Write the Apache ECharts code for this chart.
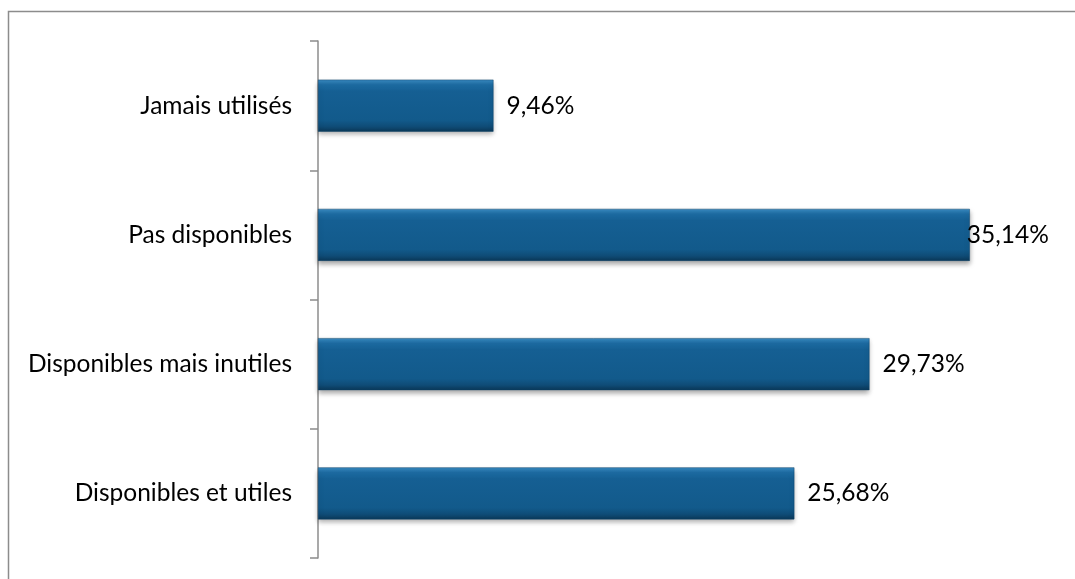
<!DOCTYPE html>
<html><head><meta charset="utf-8">
<script src="https://cdn.jsdelivr.net/npm/echarts@6/dist/echarts.min.js"></script>
<style>html,body{margin:0;padding:0;background:#fff}#c{width:1075px;height:579px}</style>
</head><body><div id="c"></div>
<script>
const categories = ['Disponibles et utiles', 'Disponibles mais inutiles', 'Pas disponibles', 'Jamais utilisés'];
const values = [25.68, 29.73, 35.14, 9.46];
const valueLabels = ['25,68%', '29,73%', '35,14%', '9,46%'];

const FONT = 'Lato';
const chart = echarts.init(document.getElementById('c'));
const barColor = new echarts.graphic.LinearGradient(0, 0, 0, 1, [
  {offset: 0, color: '#3a8cc4'},
  {offset: 0.1, color: '#1d6ca3'},
  {offset: 0.22, color: '#155f93'},
  {offset: 0.78, color: '#125a8b'},
  {offset: 0.9, color: '#0f4c77'},
  {offset: 1, color: '#0b3858'}
]);
const data = values.map((v, i) => ({
  value: v,
  label: {distance: v > 33 ? -3 : 13}
}));
chart.setOption({
  animation: false,
  graphic: [{
    type: 'rect', shape: {x: 8.5, y: 11.5, width: 1200, height: 700},
    style: {fill: 'none', stroke: '#8c8c8c', lineWidth: 1.5}, silent: true
  }],
  grid: {left: 318, right: 15, top: 41, bottom: 21},
  xAxis: {type: 'value', min: 0, max: 40, show: false, splitLine: {show: false}},
  yAxis: {
    type: 'category', data: categories,
    axisLine: {show: true, lineStyle: {color: '#8c8c8c', width: 1.5}},
    axisTick: {show: true, length: 8, lineStyle: {color: '#8c8c8c', width: 1.5}},
    axisLabel: {color: '#000', fontFamily: FONT, fontSize: 24.5, margin: 26}
  },
  series: [{
    type: 'bar', data: data, barWidth: 52,
    itemStyle: {color: barColor, borderColor: '#0d4368', borderWidth: 0.5,
      shadowColor: 'rgba(0,0,0,0.35)', shadowBlur: 5, shadowOffsetY: 3},
    label: {show: true, position: 'right', color: '#000', fontFamily: FONT, fontSize: 24.5,
      formatter: p => valueLabels[p.dataIndex]}
  }]
});
</script></body></html>
